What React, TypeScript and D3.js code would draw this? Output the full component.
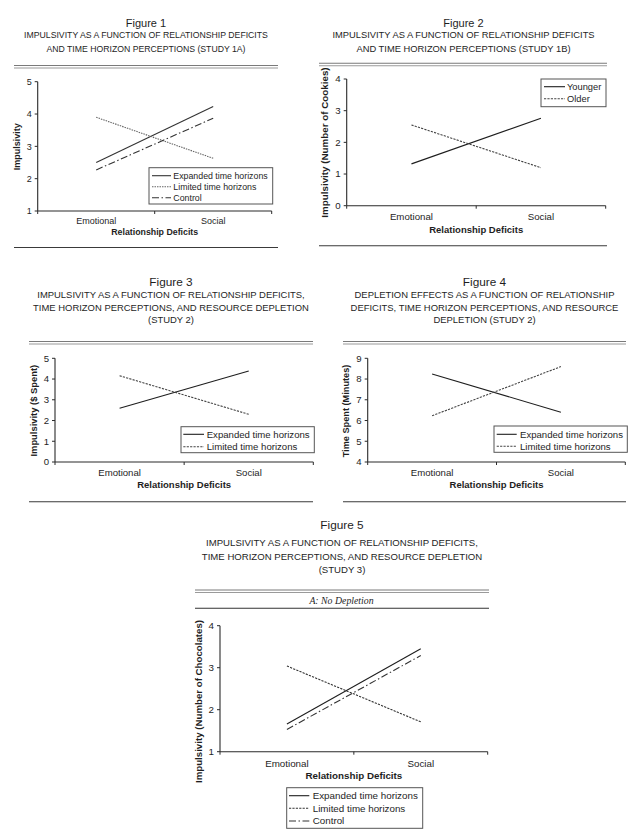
import React from "react";
import * as d3 from "d3";

const categories = ["Emotional", "Social"];

const fig1Expanded = [2.5, 4.23];
const fig1Limited = [3.9, 2.63];
const fig1Control = [2.27, 3.87];
const fig1Ticks = [1, 2, 3, 4, 5];

const fig2Younger = [1.32, 2.76];
const fig2Older = [2.55, 1.2];
const fig2Ticks = [0, 1, 2, 3, 4];

const fig3Expanded = [2.59, 4.39];
const fig3Limited = [4.16, 2.3];
const fig3Ticks = [0, 1, 2, 3, 4, 5];

const fig4Expanded = [8.24, 6.4];
const fig4Limited = [6.23, 8.6];
const fig4Ticks = [4, 5, 6, 7, 8, 9];

const fig5Expanded = [1.66, 3.45];
const fig5Limited = [3.04, 1.71];
const fig5Control = [1.53, 3.29];
const fig5Ticks = [1, 2, 3, 4];

const SANS = "'Liberation Sans', Arial, Helvetica, sans-serif";
const SERIF = "'Liberation Serif', 'Times New Roman', serif";
const INK = "#1e1e1e";

type Series = { name: string; values: number[]; dash?: string; color: string };

type PanelCfg = {
  title: string;
  subtitle: string[];
  cx: number;
  titleY: number;
  titleSize: number;
  subY: number[];
  subSize: number;
  ruleX: [number, number];
  ruleY: [number, number];
  bottomRuleY?: number;
  x0: number;
  x1: number;
  yTop: number;
  yBottom: number;
  domain: [number, number];
  ticks: number[];
  tickSize: number;
  catY: number;
  axisTitleY: number;
  axisTitleSize: number;
  yTitle: string;
  yTitleX: number;
  yTitleY: number;
  yTitleSize: number;
  series: Series[];
  legend: { x: number; y: number; w: number; h: number; itemsY: number[]; sx0: number; sx1: number; tx: number; size: number };
};

function Panel({ c }: { c: PanelCfg }) {
  const x = d3.scalePoint<string>().domain(categories).range([c.x0, c.x1]).padding(0.5);
  const y = d3.scaleLinear().domain(c.domain).range([c.yBottom, c.yTop]);
  const line = d3
    .line<number>()
    .x((_, i) => x(categories[i]) as number)
    .y((d) => y(d));
  const xTicks = [c.x0, (c.x0 + c.x1) / 2, c.x1];
  return (
    <g>
      <text x={c.cx} y={c.titleY} dy="0.35em" textAnchor="middle" fontFamily={SANS} fontSize={c.titleSize} fill={INK}>
        {c.title}
      </text>
      {c.subtitle.map((s, i) => (
        <text key={i} x={c.cx} y={c.subY[i]} dy="0.35em" textAnchor="middle" fontFamily={SANS} fontSize={c.subSize} fill={INK}>
          {s}
        </text>
      ))}
      <line x1={c.ruleX[0]} x2={c.ruleX[1]} y1={c.ruleY[0]} y2={c.ruleY[0]} stroke="#7a7a7a" strokeWidth={1.1} />
      <line x1={c.ruleX[0]} x2={c.ruleX[1]} y1={c.ruleY[1]} y2={c.ruleY[1]} stroke="#9a9a9a" strokeWidth={1.1} />
      {c.bottomRuleY !== undefined && (
        <line x1={c.ruleX[0]} x2={c.ruleX[1]} y1={c.bottomRuleY} y2={c.bottomRuleY} stroke="#3a3a3a" strokeWidth={1.1} />
      )}
      <line x1={c.x0} x2={c.x0} y1={c.yTop} y2={c.yBottom} stroke="#2a2a2a" strokeWidth={1.1} />
      <line x1={c.x0} x2={c.x1} y1={c.yBottom} y2={c.yBottom} stroke="#2a2a2a" strokeWidth={1.1} />
      {c.ticks.map((t) => (
        <g key={t}>
          <line x1={c.x0 - 3} x2={c.x0} y1={y(t)} y2={y(t)} stroke="#2a2a2a" strokeWidth={1} />
          <text x={c.x0 - 6} y={y(t)} dy="0.35em" textAnchor="end" fontFamily={SANS} fontSize={c.tickSize} fill={INK}>
            {t}
          </text>
        </g>
      ))}
      {xTicks.map((t, i) => (
        <line key={i} x1={t} x2={t} y1={c.yBottom} y2={c.yBottom + 3} stroke="#2a2a2a" strokeWidth={1} />
      ))}
      {categories.map((cat) => (
        <text key={cat} x={x(cat)} y={c.catY} dy="0.35em" textAnchor="middle" fontFamily={SANS} fontSize={c.tickSize} fill={INK}>
          {cat}
        </text>
      ))}
      <text x={(c.x0 + c.x1) / 2} y={c.axisTitleY} dy="0.35em" textAnchor="middle" fontFamily={SANS} fontWeight="bold" fontSize={c.axisTitleSize} fill={INK}>
        Relationship Deficits
      </text>
      <text
        transform={`translate(${c.yTitleX},${c.yTitleY}) rotate(-90)`}
        dy="0.35em"
        textAnchor="middle"
        fontFamily={SANS}
        fontWeight="bold"
        fontSize={c.yTitleSize}
        fill={INK}
      >
        {c.yTitle}
      </text>
      {c.series.map((s) => (
        <path key={s.name} d={line(s.values) || ""} fill="none" stroke={s.color} strokeWidth={1.1} strokeDasharray={s.dash} />
      ))}
      <rect x={c.legend.x} y={c.legend.y} width={c.legend.w} height={c.legend.h} fill="#fff" stroke="#555" strokeWidth={1} />
      {c.series.map((s, i) => (
        <g key={s.name}>
          <line
            x1={c.legend.sx0}
            x2={c.legend.sx1}
            y1={c.legend.itemsY[i]}
            y2={c.legend.itemsY[i]}
            stroke={s.color}
            strokeWidth={1.1}
            strokeDasharray={s.dash}
          />
          <text x={c.legend.tx} y={c.legend.itemsY[i]} dy="0.35em" fontFamily={SANS} fontSize={c.legend.size} fill={INK}>
            {s.name}
          </text>
        </g>
      ))}
    </g>
  );
}

const DOT = "1.5,1";
const DASH = "2.2,1.2";
const DASHDOT = "7,2.5,1.5,2.5";

const panels: PanelCfg[] = [
  {
    title: "Figure 1",
    subtitle: ["IMPULSIVITY AS A FUNCTION OF RELATIONSHIP DEFICITS", "AND TIME HORIZON PERCEPTIONS (STUDY 1A)"],
    cx: 146,
    titleY: 22.7,
    titleSize: 11,
    subY: [35, 49],
    subSize: 8.7,
    ruleX: [14, 278],
    ruleY: [65.5, 68],
    bottomRuleY: 247.5,
    x0: 37.7,
    x1: 271.7,
    yTop: 81.7,
    yBottom: 211,
    domain: [1, 5],
    ticks: fig1Ticks,
    tickSize: 9,
    catY: 221,
    axisTitleY: 232,
    axisTitleSize: 8.8,
    yTitle: "Impulsivity",
    yTitleX: 17.3,
    yTitleY: 146.7,
    yTitleSize: 9,
    series: [
      { name: "Expanded time horizons", values: fig1Expanded, color: "#333" },
      { name: "Limited time horizons", values: fig1Limited, color: "#666", dash: DOT },
      { name: "Control", values: fig1Control, color: "#333", dash: DASHDOT },
    ],
    legend: { x: 149, y: 167.7, w: 123.7, h: 36.3, itemsY: [175.7, 186.7, 197.7], sx0: 152, sx1: 171, tx: 173.3, size: 8.8 },
  },
  {
    title: "Figure 2",
    subtitle: ["IMPULSIVITY AS A FUNCTION OF RELATIONSHIP DEFICITS", "AND TIME HORIZON PERCEPTIONS (STUDY 1B)"],
    cx: 463.5,
    titleY: 22.7,
    titleSize: 11,
    subY: [35, 49],
    subSize: 9.35,
    ruleX: [319, 607],
    ruleY: [63.3, 65.8],
    bottomRuleY: 245.7,
    x0: 346.7,
    x1: 605.7,
    yTop: 79,
    yBottom: 205.7,
    domain: [0, 4],
    ticks: fig2Ticks,
    tickSize: 9.7,
    catY: 216.7,
    axisTitleY: 229.3,
    axisTitleSize: 9.5,
    yTitle: "Impulsivity (Number of Cookies)",
    yTitleX: 325,
    yTitleY: 142.5,
    yTitleSize: 9.8,
    series: [
      { name: "Younger", values: fig2Younger, color: "#1e1e1e" },
      { name: "Older", values: fig2Older, color: "#444", dash: DASH },
    ],
    legend: { x: 541, y: 79, w: 65, h: 27.7, itemsY: [86.7, 98.7], sx0: 544, sx1: 565, tx: 567, size: 9.3 },
  },
  {
    title: "Figure 3",
    subtitle: [
      "IMPULSIVITY AS A FUNCTION OF RELATIONSHIP DEFICITS,",
      "TIME HORIZON PERCEPTIONS, AND RESOURCE DEPLETION",
      "(STUDY 2)",
    ],
    cx: 171,
    titleY: 281.7,
    titleSize: 11.8,
    subY: [294.3, 307.3, 320],
    subSize: 9.45,
    ruleX: [29, 313],
    ruleY: [341.5, 344],
    bottomRuleY: 501.7,
    x0: 55,
    x1: 313.3,
    yTop: 358.3,
    yBottom: 462,
    domain: [0, 5],
    ticks: fig3Ticks,
    tickSize: 9.6,
    catY: 472.7,
    axisTitleY: 485,
    axisTitleSize: 9.5,
    yTitle: "Impulsivity ($ Spent)",
    yTitleX: 33.3,
    yTitleY: 410.7,
    yTitleSize: 9.4,
    series: [
      { name: "Expanded time horizons", values: fig3Expanded, color: "#1e1e1e" },
      { name: "Limited time horizons", values: fig3Limited, color: "#444", dash: DASH },
    ],
    legend: { x: 181, y: 426.7, w: 133.3, h: 26, itemsY: [434.3, 446.7], sx0: 183.3, sx1: 204, tx: 206.7, size: 9.6 },
  },
  {
    title: "Figure 4",
    subtitle: [
      "DEPLETION EFFECTS AS A FUNCTION OF RELATIONSHIP",
      "DEFICITS, TIME HORIZON PERCEPTIONS, AND RESOURCE",
      "DEPLETION (STUDY 2)",
    ],
    cx: 484.5,
    titleY: 281.7,
    titleSize: 11.8,
    subY: [294.3, 307.3, 320],
    subSize: 9.45,
    ruleX: [343, 626],
    ruleY: [341.5, 344],
    bottomRuleY: 501.7,
    x0: 367.7,
    x1: 625.3,
    yTop: 358.3,
    yBottom: 462,
    domain: [4, 9],
    ticks: fig4Ticks,
    tickSize: 9.6,
    catY: 472.7,
    axisTitleY: 485,
    axisTitleSize: 9.5,
    yTitle: "Time Spent (Minutes)",
    yTitleX: 346,
    yTitleY: 411,
    yTitleSize: 9.2,
    series: [
      { name: "Expanded time horizons", values: fig4Expanded, color: "#1e1e1e" },
      { name: "Limited time horizons", values: fig4Limited, color: "#444", dash: DASH },
    ],
    legend: { x: 494, y: 426, w: 133.3, h: 26.3, itemsY: [434.3, 446.3], sx0: 496.7, sx1: 516.7, tx: 520, size: 9.6 },
  },
  {
    title: "Figure 5",
    subtitle: [
      "IMPULSIVITY AS A FUNCTION OF RELATIONSHIP DEFICITS,",
      "TIME HORIZON PERCEPTIONS, AND RESOURCE DEPLETION",
      "(STUDY 3)",
    ],
    cx: 342,
    titleY: 525,
    titleSize: 11.8,
    subY: [542.7, 556.7, 570],
    subSize: 9.6,
    ruleX: [195, 489],
    ruleY: [590, 592.5],
    x0: 220,
    x1: 487.7,
    yTop: 625.7,
    yBottom: 751.7,
    domain: [1, 4],
    ticks: fig5Ticks,
    tickSize: 9.8,
    catY: 763.3,
    axisTitleY: 776,
    axisTitleSize: 9.8,
    yTitle: "Impulsivity (Number of Chocolates)",
    yTitleX: 198.3,
    yTitleY: 701.5,
    yTitleSize: 9.7,
    series: [
      { name: "Expanded time horizons", values: fig5Expanded, color: "#1e1e1e" },
      { name: "Limited time horizons", values: fig5Limited, color: "#333", dash: DASH },
      { name: "Control", values: fig5Control, color: "#333", dash: DASHDOT },
    ],
    legend: { x: 286.7, y: 787.7, w: 136, h: 40.6, itemsY: [795.7, 808.3, 821], sx0: 289, sx1: 309.3, tx: 312.7, size: 9.8 },
  },
];

export default function App() {
  return (
    <svg
      width={641}
      height={836}
      viewBox="0 0 641 836"
      style={{ position: "absolute", left: 0, top: 0, background: "#fff", display: "block" }}
    >
      <rect x={0} y={0} width={641} height={836} fill="#fff" />
      {panels.map((p) => (
        <Panel key={p.title} c={p} />
      ))}
      <text x={341.5} y={600.5} dy="0.35em" textAnchor="middle" fontFamily={SERIF} fontStyle="italic" fontSize={9.8} fill={INK}>
        A: No Depletion
      </text>
      <line x1={195} x2={489} y1={608.3} y2={608.3} stroke="#333" strokeWidth={1.1} />
    </svg>
  );
}
